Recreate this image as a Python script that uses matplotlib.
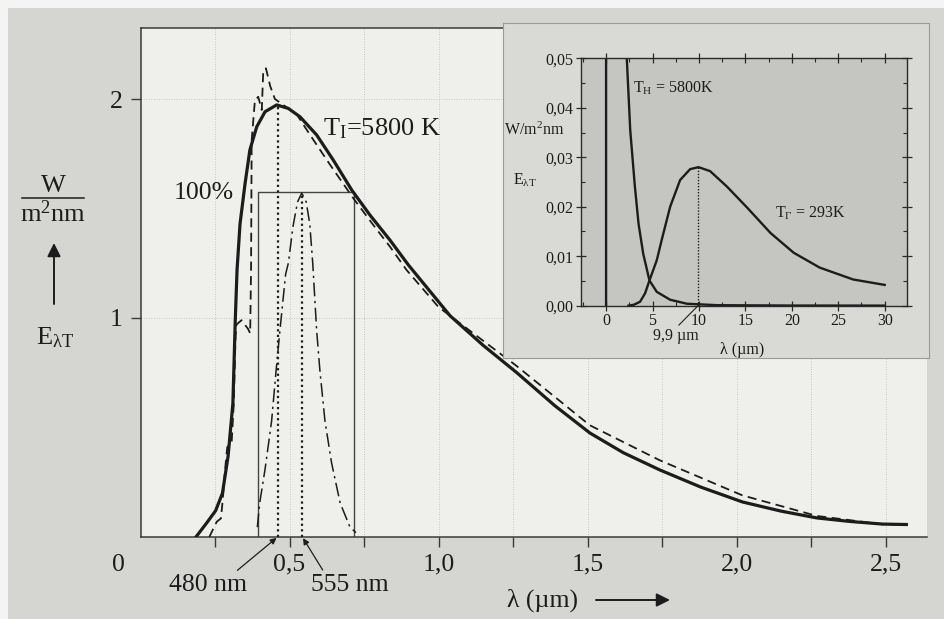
import matplotlib.pyplot as plt
from matplotlib.patches import Rectangle
from matplotlib.lines import Line2D
from matplotlib.ticker import MultipleLocator, FuncFormatter

plt.rcParams['font.family'] = ['Liberation Serif', 'DejaVu Serif']
plt.rcParams['mathtext.fontset'] = 'custom'
plt.rcParams['mathtext.rm'] = 'Liberation Serif'
plt.rcParams['mathtext.it'] = 'Liberation Serif:italic'
plt.rcParams['mathtext.default'] = 'rm'

# ---- main chart: lambda in um, E in W/(m2 nm) ----
# black body 5800 K (solid)
sun_lam = [0.186, 0.222, 0.252, 0.275, 0.294, 0.31, 0.318, 0.324, 0.334, 0.351,
           0.367, 0.39, 0.418, 0.457, 0.496, 0.535, 0.591, 0.647, 0.709, 0.77,
           0.837, 0.899, 1.039, 1.15, 1.263, 1.39, 1.508, 1.62, 1.743, 1.88,
           2.02, 2.15, 2.27, 2.38, 2.49, 2.57]
sun_E = [0.0, 0.064, 0.12, 0.2, 0.37, 0.61, 0.99, 1.22, 1.43, 1.615,
         1.767, 1.873, 1.942, 1.973, 1.957, 1.919, 1.836, 1.721, 1.584, 1.47,
         1.356, 1.242, 1.01, 0.875, 0.75, 0.60, 0.475, 0.385, 0.306, 0.228,
         0.16, 0.118, 0.087, 0.071, 0.059, 0.057]
# measured solar spectrum (dashed)
meas_lam = [0.231, 0.245, 0.256, 0.27, 0.276, 0.284, 0.291, 0.306, 0.313, 0.319,
            0.322, 0.339, 0.361, 0.368, 0.371, 0.373, 0.384, 0.395, 0.407, 0.412,
            0.421, 0.435, 0.451, 0.479, 0.524, 0.569, 0.636, 0.714, 0.781, 0.837,
            0.893, 1.0, 1.263, 1.508, 1.743, 2.02, 2.27, 2.49, 2.57]
meas_E = [0.0, 0.04, 0.07, 0.085, 0.17, 0.31, 0.41, 0.435, 0.61, 0.92,
          0.97, 0.99, 0.95, 0.93, 1.22, 1.81, 1.995, 2.01, 1.95, 2.13,
          2.14, 2.06, 2.0, 1.973, 1.93, 1.836, 1.70, 1.547, 1.425, 1.326,
          1.219, 1.05, 0.78, 0.51, 0.35, 0.19, 0.096, 0.058, 0.057]
# eye sensitivity, scaled to the 100% level (dash-dot)
eye_lam = [0.392, 0.40, 0.418, 0.44, 0.455, 0.468, 0.487, 0.496, 0.512, 0.527,
           0.541, 0.556, 0.568, 0.578, 0.591, 0.602, 0.619, 0.641, 0.67, 0.703, 0.723]
eye_E = [0.045, 0.155, 0.31, 0.53, 0.76, 0.945, 1.2, 1.25, 1.42, 1.53,
         1.57, 1.53, 1.43, 1.25, 0.945, 0.76, 0.53, 0.34, 0.155, 0.045, 0.02]
box_lam = [0.393, 0.717]
box_top = 1.577
peak_lam = [0.46, 0.543]
peak_E = [1.973, 1.57]
peak_names = ['480 nm', '555 nm']
xticks = [0.25, 0.5, 0.75, 1.0, 1.25, 1.5, 1.75, 2.0, 2.25, 2.5]
xlabels = ['', '0,5', '', '1,0', '', '1,5', '', '2,0', '', '2,5']

# ---- inset: lambda in um, E in W/(m2 nm) ----
hot_lam = [0.0, 0.0, 2.18, 2.23, 2.6, 3.1, 3.5, 4.0, 4.67, 5.46, 6.9, 8.7, 12, 20, 30]
hot_E = [0.0, 0.06, 0.06, 0.05, 0.0355, 0.0241, 0.0165, 0.0105, 0.0051, 0.0028,
         0.0012, 0.0004, 0.0001, 0.00003, 0.00002]
cold_lam = [2.4, 3.0, 3.66, 4.2, 4.67, 5.46, 5.99, 6.9, 7.97, 9.05, 9.95, 11.2,
            13.0, 15.2, 17.7, 20.2, 23.0, 26.6, 30.0]
cold_E = [0.0, 0.0002, 0.0008, 0.0025, 0.0051, 0.0092, 0.0133, 0.0200, 0.0254,
          0.0276, 0.0280, 0.0272, 0.0241, 0.0198, 0.0147, 0.0107, 0.0077, 0.0053, 0.0042]
cold_peak_lam = 9.9
cold_peak_E = 0.028

W, H = 945, 619
ink = '#1c1c1c'


def fx(px):
    return px / W


def fy(py):
    return 1 - py / H


fig = plt.figure(figsize=(9.45, 6.19), dpi=100)
fig.patch.set_facecolor('#d5d5d2')
fig.add_artist(Rectangle((0, 0), fx(8), 1, transform=fig.transFigure,
                         facecolor='#f4f4f4', edgecolor='none'))
fig.add_artist(Rectangle((0, fy(8)), 1, 8 / H, transform=fig.transFigure,
                         facecolor='#f4f4f4', edgecolor='none'))

# main axes
ax = fig.add_axes([fx(140.5), fy(537), (927 - 140.5) / W, (537 - 28) / H])
ax.set_facecolor('#efefec')
ax.set_xlim(0, (927 - 140.5) / 298)
ax.set_ylim(0, (537 - 28) / 219)
ax.spines['right'].set_visible(False)
for s in ['left', 'bottom', 'top']:
    ax.spines[s].set_color('#3a3a3a')
    ax.spines[s].set_linewidth(1.1)
ax.set_axisbelow(True)
ax.grid(True, color='#b9b9b9', lw=0.6, ls=(0, (1, 2)))

ax.plot(sun_lam, sun_E, color=ink, lw=2.3, solid_joinstyle='round', zorder=4)
ax.plot(meas_lam, meas_E, color=ink, lw=1.3, ls=(0, (5, 3)), zorder=3)
ax.plot(eye_lam, eye_E, color=ink, lw=1.1, ls=(0, (9, 3, 1.5, 3)), zorder=3)
ax.plot([box_lam[0], box_lam[0], box_lam[1], box_lam[1]], [0, box_top, box_top, 0],
        color='#444444', lw=1.0, zorder=2)
ax.vlines(peak_lam, 0, peak_E, colors=ink, linestyles=(0, (1, 1.5)), lw=1.6, zorder=3)

ax.set_xticks(xticks)
ax.set_xticklabels(xlabels)
ax.set_yticks([1, 2])
ax.set_yticklabels(['1', '2'])
ax.tick_params(axis='x', direction='out', length=7, width=1, pad=5,
               labelsize=18.5, colors='#3a3a3a', labelcolor=ink)
ax.tick_params(axis='y', direction='out', length=7, width=1, pad=6,
               labelsize=18.5, colors='#3a3a3a', labelcolor=ink)
fig.text(fx(118), fy(565), '0', ha='center', va='center', fontsize=18.5, color=ink)

for lam, name, tx, rel in zip(peak_lam, peak_names, [208, 350], [0.82, 0.18]):
    ax.annotate(name, xy=(lam, 0), xycoords='data',
                xytext=(fx(tx), fy(585)), textcoords='figure fraction',
                ha='center', va='center', fontsize=18.5, color=ink,
                annotation_clip=False,
                arrowprops=dict(arrowstyle='-|>', color=ink, lw=0.9,
                                mutation_scale=9, shrinkA=1, shrinkB=1,
                                relpos=(rel, 1.0)))

fig.text(fx(204), fy(193), '100%', ha='center', va='center', fontsize=18.5, color=ink)
fig.text(fx(323), fy(129), 'T$_{\\mathrm{I}}$=5800 K', ha='left', va='center',
         fontsize=19, color=ink)

fig.text(fx(543), fy(600), 'λ (µm)', ha='center', va='center', fontsize=18.5, color=ink)
fig.add_artist(plt.Annotation('', xy=(fx(670), fy(600)), xytext=(fx(596), fy(600)),
                              xycoords='figure fraction', textcoords='figure fraction',
                              arrowprops=dict(arrowstyle='-|>', color=ink, lw=1.4,
                                              mutation_scale=20, shrinkA=0, shrinkB=0)))

# left axis label
fig.text(fx(53), fy(186), 'W', ha='center', va='center', fontsize=19, color=ink)
fig.add_artist(Line2D([fx(22), fx(84)], [fy(198), fy(198)], color=ink, lw=1.1))
fig.text(fx(53), fy(214), 'm$^{2}$nm', ha='center', va='center', fontsize=19, color=ink)
fig.add_artist(plt.Annotation('', xy=(fx(54), fy(243)), xytext=(fx(54), fy(304)),
                              xycoords='figure fraction', textcoords='figure fraction',
                              arrowprops=dict(arrowstyle='-|>', color=ink, lw=1.4,
                                              mutation_scale=20, shrinkA=0, shrinkB=0)))
fig.text(fx(55), fy(338), 'E$_{\\lambda\\mathrm{T}}$', ha='center', va='center',
         fontsize=19, color=ink)

# inset panel
panel = fig.add_axes([fx(503), fy(358), (929 - 503) / W, (358 - 23) / H])
panel.set_facecolor('#d9d9d6')
panel.set_xticks([])
panel.set_yticks([])
for s in panel.spines.values():
    s.set_color('#9a9a9a')
    s.set_linewidth(0.8)

ins = fig.add_axes([fx(581), fy(305.7), 326 / W, 247.4 / H])
ins.set_facecolor('#c5c5c2')
ins.set_xlim(-2.7, 32.4)
ins.set_ylim(0, 0.05)
ins.plot(hot_lam, hot_E, color=ink, lw=1.7, solid_joinstyle='round')
ins.plot(cold_lam, cold_E, color=ink, lw=1.7, solid_joinstyle='round')
ins.vlines(cold_peak_lam, 0, cold_peak_E, colors=ink, linestyles=(0, (1, 1.2)), lw=1.0)
ins.xaxis.set_major_locator(MultipleLocator(5))
ins.xaxis.set_minor_locator(MultipleLocator(2.5))
ins.yaxis.set_major_locator(MultipleLocator(0.01))
ins.yaxis.set_minor_locator(MultipleLocator(0.005))
ins.xaxis.set_major_formatter(FuncFormatter(lambda v, p: f'{v:.0f}'))
ins.yaxis.set_major_formatter(FuncFormatter(lambda v, p: f'{v:.2f}'.replace('.', ',')))
ins.tick_params(which='major', direction='inout', length=7, width=0.9, top=True,
                right=True, labelsize=11.5, colors='#2a2a2a', labelcolor=ink, pad=2)
ins.tick_params(which='minor', direction='in', length=3, width=0.8, top=True,
                right=True, colors='#2a2a2a')
for s in ins.spines.values():
    s.set_color('#2a2a2a')
    s.set_linewidth(1.0)

fig.text(fx(633), fy(88), 'T$_{\\mathrm{H}}$ = 5800K', ha='left', va='center',
         fontsize=11.5, color=ink)
fig.text(fx(775), fy(213), 'T$_{\\mathrm{Г}}$ = 293K', ha='left', va='center',
         fontsize=11.5, color=ink)
ins.annotate('9,9 µm', xy=(cold_peak_lam, 0), xycoords='data',
             xytext=(fx(676), fy(336)), textcoords='figure fraction',
             ha='center', va='center', fontsize=11.5, color=ink, annotation_clip=False,
             arrowprops=dict(arrowstyle='-', color=ink, lw=0.8, shrinkA=0, shrinkB=0,
                             relpos=(0.5, 1.0)))
fig.text(fx(742), fy(350), 'λ (µm)', ha='center', va='center', fontsize=11.5, color=ink)
fig.text(fx(564), fy(130), 'W/m$^{2}$nm', ha='right', va='center', fontsize=11.5, color=ink)
fig.text(fx(537), fy(180), 'E$_{\\lambda\\mathrm{T}}$', ha='right', va='center',
         fontsize=11.5, color=ink)

fig.savefig('out.png', dpi=100, facecolor=fig.get_facecolor())
